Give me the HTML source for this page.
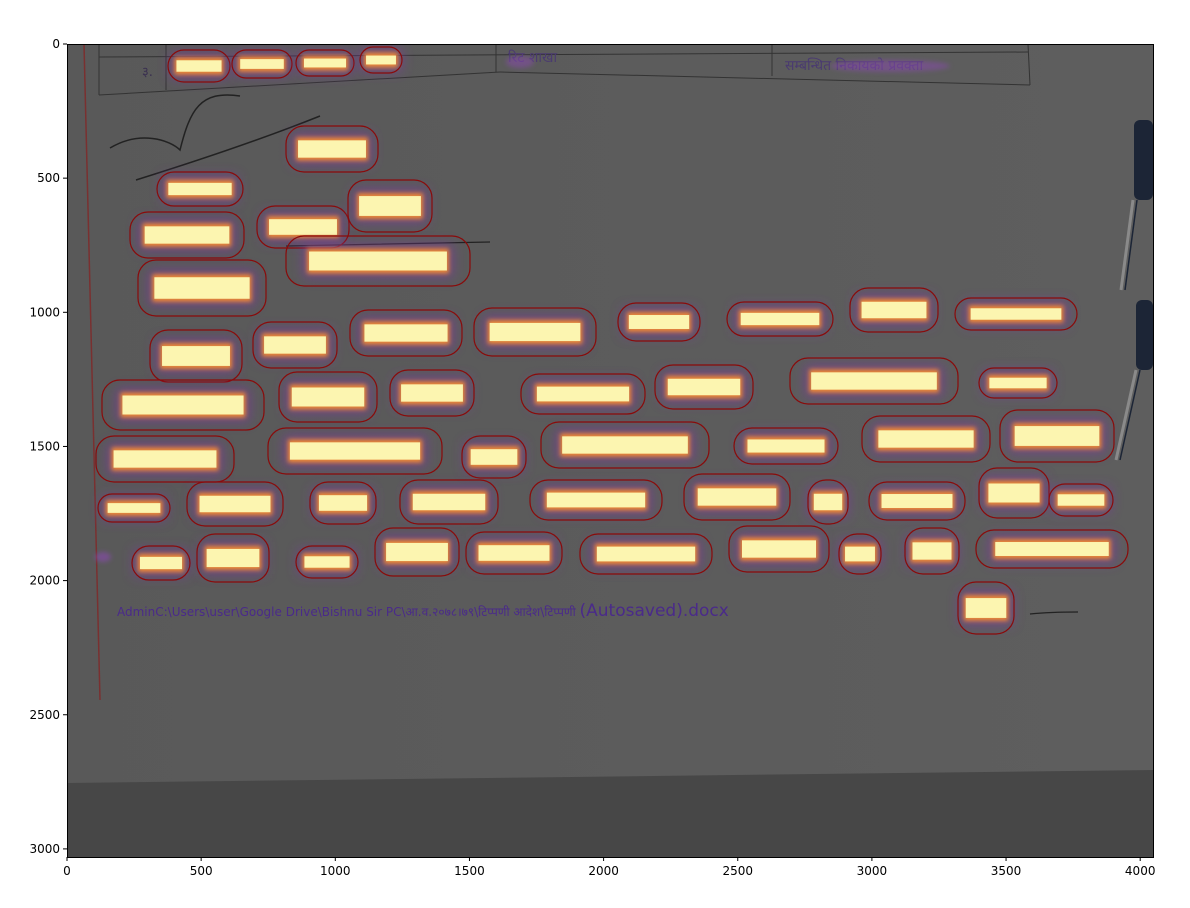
<!DOCTYPE html>
<html><head><meta charset="utf-8">
<style>
html,body{margin:0;padding:0;background:#fff;width:1190px;height:908px;overflow:hidden}
svg{display:block}
text{font-family:"DejaVu Sans","Liberation Sans",sans-serif}
</style></head>
<body>
<svg id="s" width="1190" height="908" viewBox="0 0 1190 908" xmlns="http://www.w3.org/2000/svg">
<defs>
<filter id="b6" x="-50%" y="-100%" width="200%" height="300%"><feGaussianBlur stdDeviation="6"/></filter>
<filter id="b3" x="-50%" y="-100%" width="200%" height="300%"><feGaussianBlur stdDeviation="2.5"/></filter>
<clipPath id="ax"><rect x="67" y="44" width="1086" height="813"/></clipPath>
<linearGradient id="pg" x1="0" y1="0" x2="1" y2="0"><stop offset="0" stop-color="#595959"/><stop offset="1" stop-color="#5e5e5e"/></linearGradient>
</defs>
<g clip-path="url(#ax)">
<rect x="67" y="44" width="1086" height="813" fill="url(#pg)"/>
<polygon points="67,783 1153,770 1153,857 67,857" fill="#474747"/>
<!-- table lines -->
<g stroke="#333" stroke-width="1" fill="none">
<line x1="99" y1="57" x2="1028" y2="52"/>
<line x1="99" y1="95" x2="500" y2="72"/>
<line x1="500" y1="72" x2="1030" y2="85"/>
<line x1="99" y1="44" x2="99" y2="95"/>
<line x1="166" y1="44" x2="166" y2="90"/>
<line x1="496" y1="44" x2="496" y2="72"/>
<line x1="772" y1="44" x2="772" y2="76"/>
<line x1="1028" y1="44" x2="1030" y2="85"/>
</g>
<line x1="84" y1="44" x2="100" y2="700" stroke="#7a3030" stroke-width="1.5"/>
<text x="142" y="76" font-size="13" fill="#3a3050" font-family="Noto Sans CJK SC">३.</text>
<text x="508" y="62" font-size="14" fill="#4a3a70">रिट शाखा</text>
<text x="785" y="70" font-size="14" fill="#4a3a70">सम्बन्धित निकायको प्रवक्ता</text>
<!-- scribbles -->
<path d="M110,148 C140,130 170,140 180,150 C190,110 200,90 240,96 M136,180 C200,160 260,140 320,116" stroke="#222" stroke-width="1.5" fill="none"/>
<path d="M286,246 L490,242 M1030,614 C1050,612 1070,612 1078,612" stroke="#222" stroke-width="1.3" fill="none"/>
<g stroke="#8a8a8a" stroke-width="3"><line x1="1133" y1="200" x2="1121" y2="290"/><line x1="1136" y1="370" x2="1116" y2="460"/></g>
<g stroke="#1c2536" stroke-width="1.5"><line x1="1137" y1="200" x2="1125" y2="290"/><line x1="1140" y1="370" x2="1120" y2="460"/></g>
<rect x="1134" y="120" width="19" height="80" rx="6" fill="#1c2536"/>
<rect x="1136" y="300" width="17" height="70" rx="6" fill="#1c2536"/>
<g id="boxes"></g>
<text x="117" y="616" font-size="12" fill="#4a2a8a" font-family="Liberation Sans, Noto Sans CJK SC, sans-serif">AdminC:\Users\user\Google Drive\Bishnu Sir PC\आ.व.२०७८।७९\टिप्पणी आदेश\टिप्पणी <tspan font-size="17">(Autosaved).docx</tspan></text>
</g>
<rect x="67.5" y="44.5" width="1086" height="813" fill="none" stroke="#000" stroke-width="1"/>
<g id="ticks" font-size="12" fill="#000"></g>
</svg>
<script>
var NS="http://www.w3.org/2000/svg";
function el(p,t,a,txt){var e=document.createElementNS(NS,t);for(var k in a)e.setAttribute(k,a[k]);if(txt!==undefined)e.textContent=txt;p.appendChild(e);return e;}
var B=[[168,50,62,32],[232,50,60,28],[296,50,58,26],[360,47,42,26],
[286,126,92,46],[157,172,86,34],[130,212,114,46],[257,206,92,42],[348,180,84,52],
[138,260,128,56],[286,236,184,50],
[150,330,92,52],[253,322,84,46],[350,310,112,46],[474,308,122,48],[618,303,82,38],[727,302,106,34],[850,288,88,44],[955,298,122,32],
[102,380,162,50],[279,372,98,50],[390,370,84,46],[521,374,124,40],[655,365,98,44],[790,358,168,46],[979,368,78,30],
[96,436,138,46],[268,428,174,46],[462,436,64,42],[541,422,168,46],[734,428,104,36],[862,416,128,46],[1000,410,114,52],
[98,494,72,28],[187,482,96,44],[310,482,66,42],[400,480,98,44],[530,480,132,40],[684,474,106,46],[808,480,40,44],[869,482,96,38],[979,468,70,50],[1049,484,64,32],
[132,546,58,34],[197,534,72,48],[296,546,62,32],[375,528,84,48],[466,532,96,42],[580,534,132,40],[729,526,100,46],[839,534,42,40],[905,528,54,46],[976,530,152,38],
[958,582,56,52]];
var g=document.getElementById('boxes');
B.forEach(function(b){var x=b[0],y=b[1],w=b[2],h=b[3];
var ix=x+w*0.12,iw=w*0.76,ih=Math.max(9,h*0.42),iy=y+(h-ih)/2;
el(g,'rect',{x:ix-5,y:iy-6,width:iw+10,height:ih+12,fill:'#7a3a9a',opacity:0.7,filter:'url(#b6)'});
el(g,'rect',{x:ix-1,y:iy-2,width:iw+2,height:ih+4,fill:'#f08a30',filter:'url(#b3)'});
el(g,'rect',{x:ix+1,y:iy+1,width:iw-2,height:ih-2,fill:'#fcf5b0'});
el(g,'rect',{x:x,y:y,width:w,height:h,rx:Math.min(h/2,18),fill:'none',stroke:'#8a0a0a','stroke-width':1.2});
});
el(g,'ellipse',{cx:103,cy:557,rx:8,ry:5,fill:'#8a4ab0',opacity:0.6,filter:'url(#b3)'});
el(g,'ellipse',{cx:520,cy:62,rx:14,ry:6,fill:'#8a4ab0',opacity:0.5,filter:'url(#b3)'});
el(g,'ellipse',{cx:890,cy:66,rx:60,ry:6,fill:'#8a4ab0',opacity:0.5,filter:'url(#b3)'});
var t=document.getElementById('ticks');
for(var v=0;v<=4000;v+=500){var px=67+v*0.2683;el(t,'line',{x1:px,y1:857,x2:px,y2:861,stroke:'#000'});el(t,'text',{x:px,y:875,'text-anchor':'middle'},String(v));}
for(var v=0;v<=3000;v+=500){var py=44+v*0.2683;el(t,'line',{x1:63,y1:py,x2:67,y2:py,stroke:'#000'});el(t,'text',{x:60,y:py+4,'text-anchor':'end'},String(v));}
</script>
</body></html>
